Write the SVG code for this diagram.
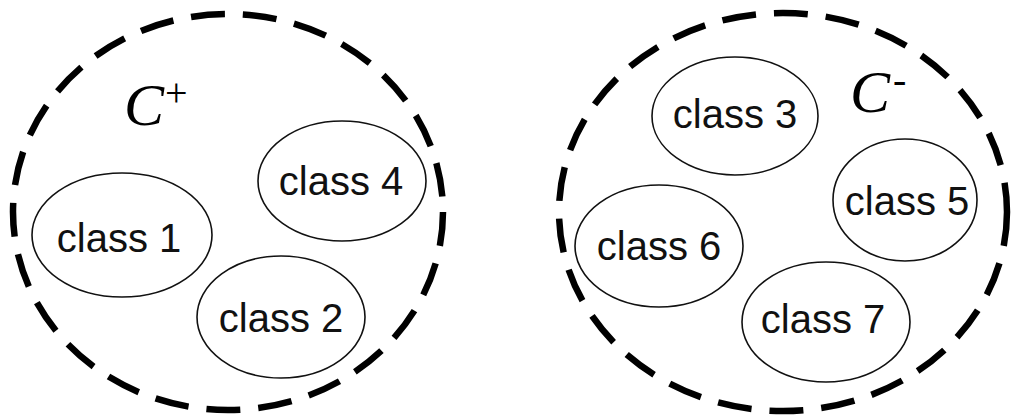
<svg xmlns="http://www.w3.org/2000/svg" width="1015" height="419" viewBox="0 0 1015 419">
<style>
.big{fill:none;stroke:#000;stroke-width:6.5;stroke-dasharray:34 18}
.cls{fill:#fff;stroke:#111;stroke-width:1.6}
.lbl{font-family:"Liberation Sans",Arial,sans-serif;font-size:40px;fill:#111;text-anchor:middle}
.set{font-family:"Liberation Serif","Times New Roman",serif;font-style:italic;font-size:60px;fill:#000}
.sup{font-family:"Liberation Serif","Times New Roman",serif;font-size:40px;fill:#000}
</style>
<rect width="1015" height="419" fill="#fff"/>
<g id="set-cplus">
<ellipse class="big" cx="228" cy="212" rx="215" ry="198"/>
<text class="set" x="124" y="125">C</text>
<text class="sup" x="165" y="106">+</text>
</g>
<g id="set-cminus">
<ellipse class="big" cx="783" cy="212" rx="224" ry="199"/>
<text class="set" x="850" y="112">C</text>
<text class="sup" x="893" y="93">-</text>
</g>
<g id="class1"><ellipse class="cls" cx="122" cy="235" rx="90" ry="62"/><text class="lbl" x="119" y="252">class 1</text></g>
<g id="class4"><ellipse class="cls" cx="342" cy="181" rx="84" ry="60"/><text class="lbl" x="341" y="195">class 4</text></g>
<g id="class2"><ellipse class="cls" cx="281" cy="317" rx="84" ry="61"/><text class="lbl" x="281" y="332">class 2</text></g>
<g id="class3"><ellipse class="cls" cx="735" cy="116" rx="83" ry="59"/><text class="lbl" x="735" y="128">class 3</text></g>
<g id="class5"><ellipse class="cls" cx="905" cy="200" rx="72" ry="61"/><text class="lbl" x="907" y="215">class 5</text></g>
<g id="class6"><ellipse class="cls" cx="659" cy="246" rx="84" ry="61"/><text class="lbl" x="659" y="260">class 6</text></g>
<g id="class7"><ellipse class="cls" cx="826" cy="322" rx="84" ry="60"/><text class="lbl" x="823" y="333">class 7</text></g>
<g id="connectors"></g>
</svg>
